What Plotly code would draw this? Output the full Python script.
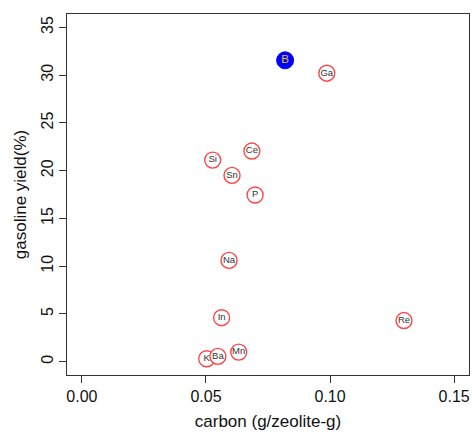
import plotly.graph_objects as go

labels = ["Si", "Sn", "Ce", "P", "Ga", "Na", "In", "Re", "K", "Ba", "Mn"]
carbon = [0.0527, 0.0605, 0.0685, 0.0698, 0.0987, 0.0593, 0.0563, 0.1298, 0.0503, 0.0548, 0.0632]
gasoline = [21.1, 19.5, 22.05, 17.45, 30.2, 10.6, 4.6, 4.3, 0.3, 0.55, 1.0]

best_label = ["B"]
best_carbon = [0.0819]
best_gasoline = [31.55]

x_ticks = [0.0, 0.05, 0.10, 0.15]
x_ticktext = ["0.00", "0.05", "0.10", "0.15"]
y_ticks = [0, 5, 10, 15, 20, 25, 30, 35]

fig = go.Figure()
fig.add_trace(go.Scatter(
    x=carbon, y=gasoline, text=labels, mode="markers+text",
    textposition="middle center",
    marker=dict(size=16, color="white", line=dict(color="#FF4545", width=1.4)),
    textfont=dict(family="Liberation Sans, Arial", size=9.5, color="#333333"),
    showlegend=False, cliponaxis=False,
))
fig.add_trace(go.Scatter(
    x=best_carbon, y=best_gasoline, text=best_label, mode="markers+text",
    textposition="middle center",
    marker=dict(size=17, color="#0000FF", line=dict(color="#0000FF", width=1)),
    textfont=dict(family="Liberation Sans, Arial", size=11.5, color="#E8C800"),
    showlegend=False, cliponaxis=False,
))

axis_common = dict(
    showgrid=False, zeroline=False, showline=True, mirror=True,
    linecolor="#333333", linewidth=1, ticks="outside", ticklen=7,
    tickcolor="#333333", tickwidth=1, automargin=False,
    tickfont=dict(family="Liberation Sans, Arial", size=16, color="#111111"),
)
fig.update_xaxes(
    range=[-0.006, 0.156], tickvals=x_ticks, ticktext=x_ticktext,
    title=dict(text="carbon (g/zeolite-g)", standoff=10,
               font=dict(family="Liberation Sans, Arial", size=17, color="#111111")),
    **axis_common,
)
fig.update_yaxes(
    range=[-1.4, 36.4], tickvals=y_ticks, tickangle=-90,
    title=dict(text="gasoline yield(%)", standoff=7,
               font=dict(family="Liberation Sans, Arial", size=17, color="#111111")),
    **axis_common,
)
fig.update_layout(
    width=472, height=432,
    margin=dict(l=67, r=3, t=14, b=57),
    plot_bgcolor="white", paper_bgcolor="white",
)
fig.write_html(
    "out.html",
    config={"displayModeBar": False},
    post_script="document.body.style.margin='0px';document.body.style.overflow='hidden';",
)
